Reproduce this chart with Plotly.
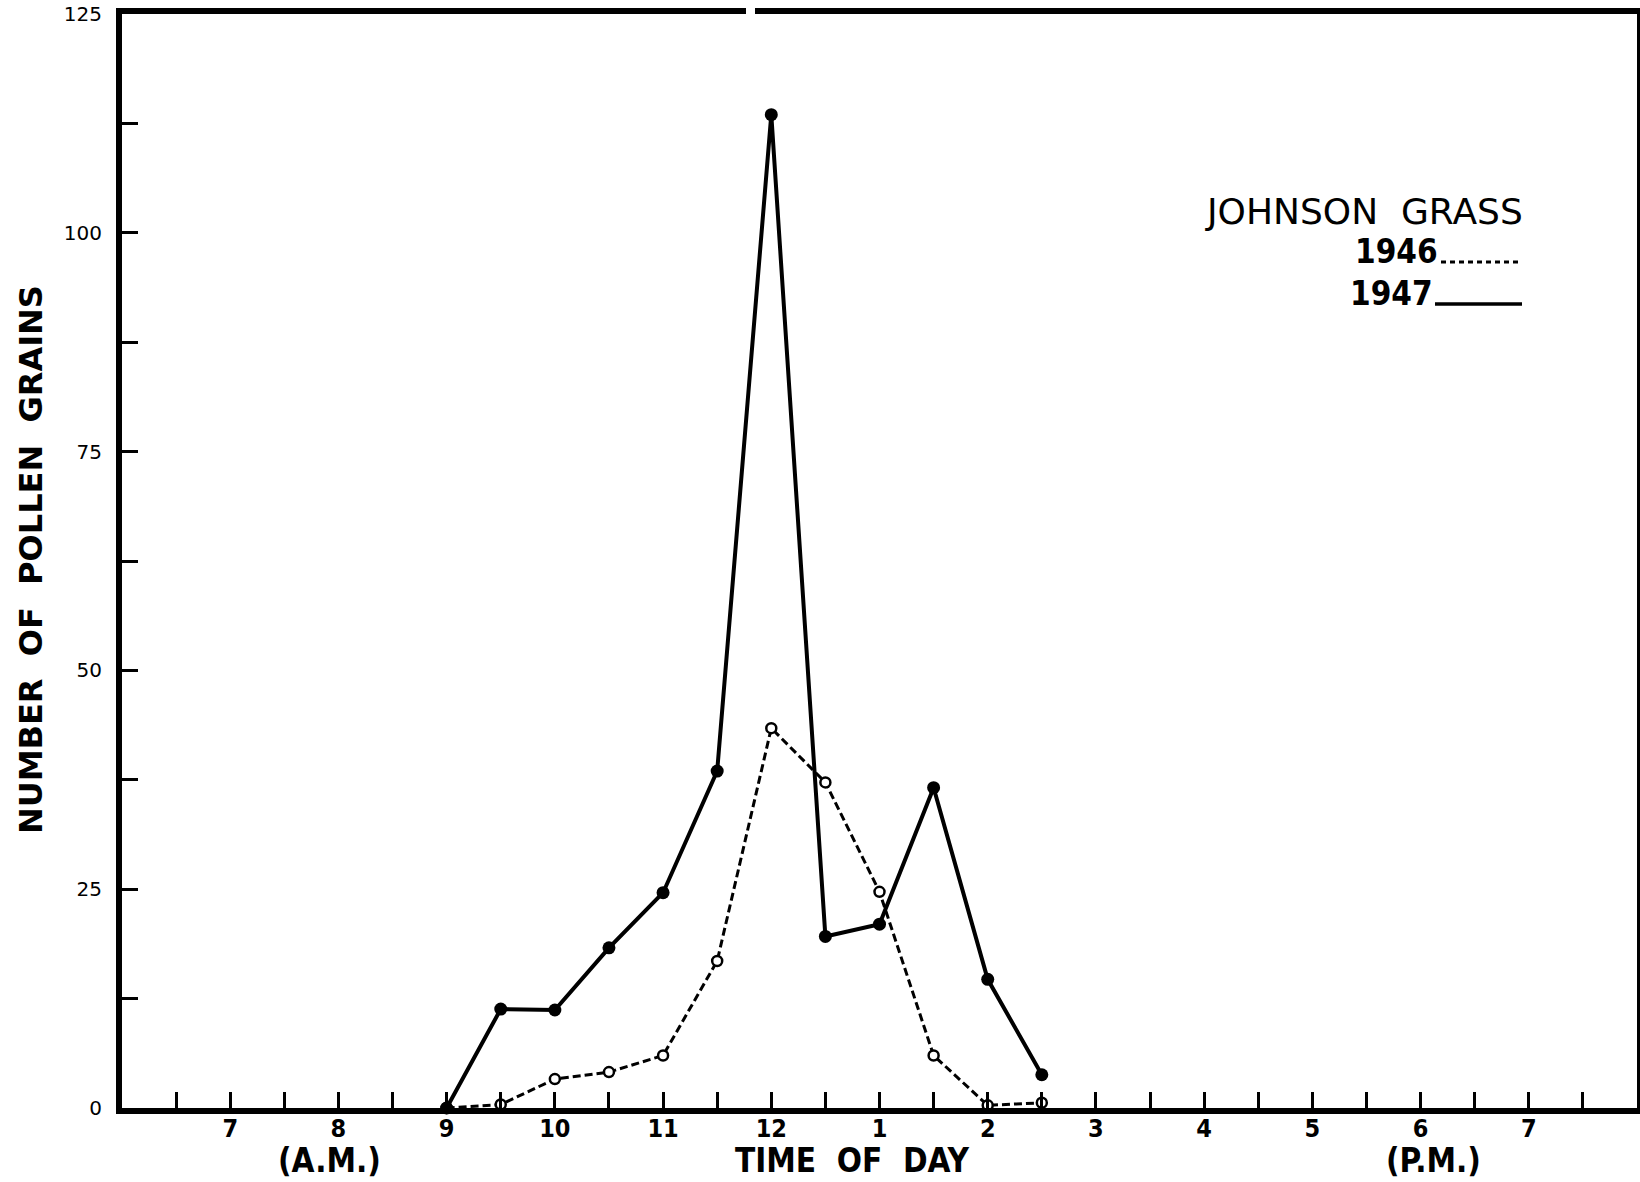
import plotly.graph_objects as go

# ---- data ----
times = [9.0, 9.5, 10.0, 10.5, 11.0, 11.5, 12.0, 12.5, 13.0, 13.5, 14.0, 14.5]
pollen_1947 = [0, 11.3, 11.2, 18.3, 24.6, 38.5, 113.5, 19.6, 21.0, 36.6, 14.7, 3.8]
pollen_1946 = [0, 0.4, 3.3, 4.1, 6.0, 16.8, 43.4, 37.2, 24.7, 6.0, 0.3, 0.6]

x_tick_vals = [6.5 + 0.5 * i for i in range(27)]
x_tick_text = ["", "7", "", "8", "", "9", "", "10", "", "11", "", "12", "", "1", "",
               "2", "", "3", "", "4", "", "5", "", "6", "", "7", ""]
y_tick_vals = [0, 12.5, 25, 37.5, 50, 62.5, 75, 87.5, 100, 112.5, 125]
y_tick_text = ["0", "", "25", "", "50", "", "75", "", "100", "", "125"]

W, H = 1640, 1182
L, R, T, B = 122, 3, 14, 74
PW, PH = W - L - R, H - T - B


def px(xp):
    return (xp - L) / PW


def py(yp):
    return (H - B - yp) / PH


fig = go.Figure()
fig.add_trace(go.Scatter(
    x=times, y=pollen_1946, mode="lines+markers", name="1946",
    line=dict(color="black", width=3, dash="8px,4px"),
    marker=dict(symbol="circle", size=10, color="white", line=dict(color="black", width=2.5)),
    cliponaxis=False,
))
fig.add_trace(go.Scatter(
    x=times, y=pollen_1947, mode="lines+markers", name="1947",
    line=dict(color="black", width=4),
    marker=dict(symbol="circle", size=13, color="black"),
    cliponaxis=False,
))

ann_font = dict(family="DejaVu Sans", color="black")
cond_font = dict(family="DejaVu Sans Condensed, DejaVu Sans", color="black")

annotations = [
    dict(text="NUMBER\u00a0\u00a0OF\u00a0\u00a0POLLEN\u00a0\u00a0GRAINS", textangle=-90,
         x=px(31), y=py(560), xref="paper", yref="paper", xanchor="center", yanchor="middle",
         showarrow=False, font=dict(size=32, weight="bold", **ann_font)),
    dict(text="TIME\u00a0\u00a0OF\u00a0\u00a0DAY", x=px(852), y=py(1182), xref="paper", yref="paper",
         xanchor="center", yanchor="bottom", showarrow=False,
         font=dict(size=33, weight="bold", **cond_font)),
    dict(text="(A.M.)", x=px(329), y=py(1182), xref="paper", yref="paper",
         xanchor="center", yanchor="bottom", showarrow=False,
         font=dict(size=33, weight="bold", **cond_font)),
    dict(text="(P.M.)", x=px(1433), y=py(1182), xref="paper", yref="paper",
         xanchor="center", yanchor="bottom", showarrow=False,
         font=dict(size=33, weight="bold", **cond_font)),
    dict(text="JOHNSON\u00a0\u00a0GRASS", x=px(1364), y=py(212), xref="paper", yref="paper",
         xanchor="center", yanchor="middle", showarrow=False, font=dict(size=36, **ann_font)),
    dict(text="1946", x=px(1440), y=py(251), xref="paper", yref="paper",
         xanchor="right", yanchor="middle", showarrow=False,
         font=dict(size=33, weight="bold", **cond_font)),
    dict(text="1947", x=px(1435), y=py(293), xref="paper", yref="paper",
         xanchor="right", yanchor="middle", showarrow=False,
         font=dict(size=33, weight="bold", **cond_font)),
]

shapes = [
    dict(type="line", xref="paper", yref="paper", x0=px(1441), x1=px(1519), y0=py(262), y1=py(262),
         line=dict(color="black", width=3, dash="5px,4px")),
    dict(type="line", xref="paper", yref="paper", x0=px(1435), x1=px(1522), y0=py(304), y1=py(304),
         line=dict(color="black", width=3.5)),
    dict(type="rect", xref="paper", yref="paper", x0=px(746), x1=px(755), y0=0.99, y1=1.01,
         line=dict(width=0), fillcolor="white", layer="above"),
]

fig.update_layout(
    width=W, height=H,
    margin=dict(l=L, r=R, t=T, b=B, autoexpand=False),
    paper_bgcolor="white", plot_bgcolor="white",
    showlegend=False,
    annotations=annotations,
    shapes=shapes,
    xaxis=dict(range=[6, 20], showgrid=False, zeroline=False, automargin=False,
               showline=True, linecolor="black", linewidth=6, mirror=True,
               ticks="inside", ticklen=16, tickwidth=3, tickcolor="black",
               tickmode="array", tickvals=x_tick_vals, ticktext=x_tick_text,
               ticklabelstandoff=-7,
               tickfont=dict(size=25, weight="bold", **cond_font)),
    yaxis=dict(range=[0, 125], showgrid=False, zeroline=False, automargin=False,
               showline=True, linecolor="black", linewidth=6, mirror=True,
               ticks="inside", ticklen=16, tickwidth=3, tickcolor="black",
               tickmode="array", tickvals=y_tick_vals, ticktext=y_tick_text,
               ticklabelstandoff=10,
               tickfont=dict(size=20, **ann_font)),
)

fig.write_html("out.html", config={"displayModeBar": False},
               post_script="document.body.style.margin='0px';document.body.style.overflow='hidden';")
